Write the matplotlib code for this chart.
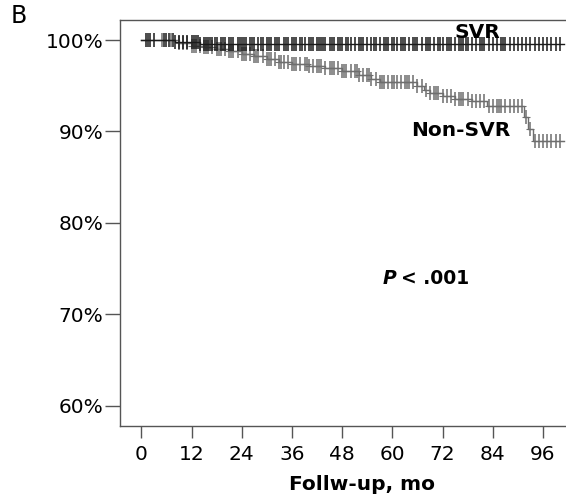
import matplotlib
matplotlib.use("Agg")
import matplotlib.pyplot as plt

plt.rcParams['font.family'] = ['DejaVu Sans']

# Kaplan-Meier step data (months, survival %)
svr_times = [0, 8, 14, 101]
svr_surv = [100.0, 99.8, 99.6, 99.6]
svr_censor = [1, 1.5, 2, 3, 5.5, 6, 6.5, 7.5, 8, 9, 10, 11, 12, 12.5, 13, 13.5, 14, 15, 15.5,
              16, 16.5, 17, 17.5, 18, 19, 19.5, 20, 21, 21.5, 22, 23, 23.5, 24, 24.5, 25, 26,
              26.5, 27, 28, 28.5, 29, 30, 30.5, 31, 32, 32.5, 33, 34, 34.5, 35, 36, 36.5, 37,
              38, 38.5, 39, 40, 40.5, 41, 42, 42.5, 43, 43.5, 44, 45, 45.5, 46, 47, 47.5, 48,
              49, 49.5, 50, 51, 52, 52.5, 53, 54, 55, 55.5, 56, 57, 58, 58.5, 59, 60, 60.5,
              61, 62, 62.5, 63, 64, 65, 65.5, 66, 67, 68, 68.5, 69, 70, 71, 71.5, 72, 73,
              73.5, 74, 75, 76, 76.5, 77, 77.5, 78, 79, 80, 81, 81.5, 82, 83, 84, 85, 86,
              86.5, 87, 88, 89, 90, 91, 92, 93, 94, 95, 96, 97, 98, 99, 100]

non_times = [0, 9, 12, 15, 18, 21, 24, 27, 30, 33, 36, 40, 44, 48, 52, 55, 57, 66, 67.5,
             69, 72, 75, 79, 82.5, 91.5, 92.5, 93.5, 101]
non_surv = [100.0, 99.7, 99.4, 99.2, 99.0, 98.8, 98.5, 98.2, 97.9, 97.6, 97.4, 97.2, 96.9,
            96.6, 96.2, 95.7, 95.4, 95.0, 94.5, 94.2, 93.9, 93.5, 93.3, 92.8, 91.6, 90.3,
            89.0, 89.0]
non_censor = [5, 7, 9, 10, 11, 12, 12.5, 13, 14, 15, 15.5, 16, 17, 18, 18.5, 19, 20, 21, 21.5,
              22, 23, 24, 24.5, 25, 26, 27, 27.5, 28, 29, 30, 30.5, 31, 32, 33, 33.5, 34, 35,
              36, 36.5, 37, 38, 39, 39.5, 40, 41, 42, 42.5, 43, 44, 45, 45.5, 46, 47, 48,
              48.5, 49, 50, 51, 51.5, 52, 53, 54, 54.5, 55, 56, 57, 57.5, 58, 59, 60, 60.5,
              61, 62, 63, 63.5, 64, 65, 66, 67, 68, 69, 70, 70.5, 71, 72, 73, 74, 75, 76,
              76.5, 77, 78, 79, 80, 81, 82, 83, 84, 85, 85.5, 86, 87, 88, 89, 90, 91, 92,
              93, 94, 95, 96, 97, 98, 99, 100]

x_ticks = [0, 12, 24, 36, 48, 60, 72, 84, 96]
y_ticks = [60, 70, 80, 90, 100]
y_labels = ['60%', '70%', '80%', '90%', '100%']


def surv_at(times, surv, t):
    val = surv[0]
    for ti, si in zip(times, surv):
        if ti <= t:
            val = si
    return val


fig = plt.figure(figsize=(5.66, 4.98), dpi=100)
ax = fig.add_axes([120 / 566, 1 - 426 / 498, 1 - 120 / 566, (426 - 20) / 498])

non_col = '#6e6e6e'
svr_col = '#1a1a1a'

non_y = [surv_at(non_times, non_surv, t) for t in non_censor]
ax.step(non_times, non_surv, where='post', color=non_col, lw=1.0, zorder=2)
ax.plot(non_censor, non_y, ls='none', marker='|', ms=10, mew=1.1, color=non_col, zorder=2)
ax.plot(non_censor, non_y, ls='none', marker='_', ms=6, mew=0.8, color=non_col, zorder=2)

svr_y = [surv_at(svr_times, svr_surv, t) for t in svr_censor]
ax.step(svr_times, svr_surv, where='post', color=svr_col, lw=1.0, zorder=3)
ax.plot(svr_censor, svr_y, ls='none', marker='|', ms=10, mew=1.1, color=svr_col, zorder=3)

ax.set_xlim(-5.1, 101.5)
ax.set_ylim(57.78, 102.19)

ax.set_xticks(x_ticks)
ax.set_xticklabels([str(v) for v in x_ticks], fontsize=14.5)
ax.set_yticks(y_ticks)
ax.set_yticklabels(y_labels, fontsize=14.5)

for s in ['left', 'bottom', 'top']:
    ax.spines[s].set_color('#555555')
    ax.spines[s].set_linewidth(1.0)
ax.spines['right'].set_visible(False)

ax.tick_params(axis='y', direction='out', length=10.8, width=1.0, color='#555555', pad=1)
ax.tick_params(axis='x', direction='out', length=8.5, width=1.0, color='#555555', pad=5)

ax.set_xlabel('Follw-up, mo', fontsize=14.5, fontweight='bold')
ax.xaxis.set_label_coords((362 - 120) / (566 - 120), -0.12)

ax.text(80.4, 100.8, 'SVR', fontsize=14.5, fontweight='bold', ha='center', va='center')
ax.text(76.3, 90.15, 'Non-SVR', fontsize=14.5, fontweight='bold', ha='center', va='center')
ax.text(61.0, 73.96, 'P', fontsize=13.5, fontweight='bold', fontstyle='italic',
        ha='right', va='center')
ax.text(62.0, 73.96, '< .001', fontsize=13.5, fontweight='bold', ha='left', va='center')

fig.text(11 / 566, 1 - 16 / 498, 'B', fontsize=17, ha='left', va='center')

fig.savefig('out.png', dpi=100)
